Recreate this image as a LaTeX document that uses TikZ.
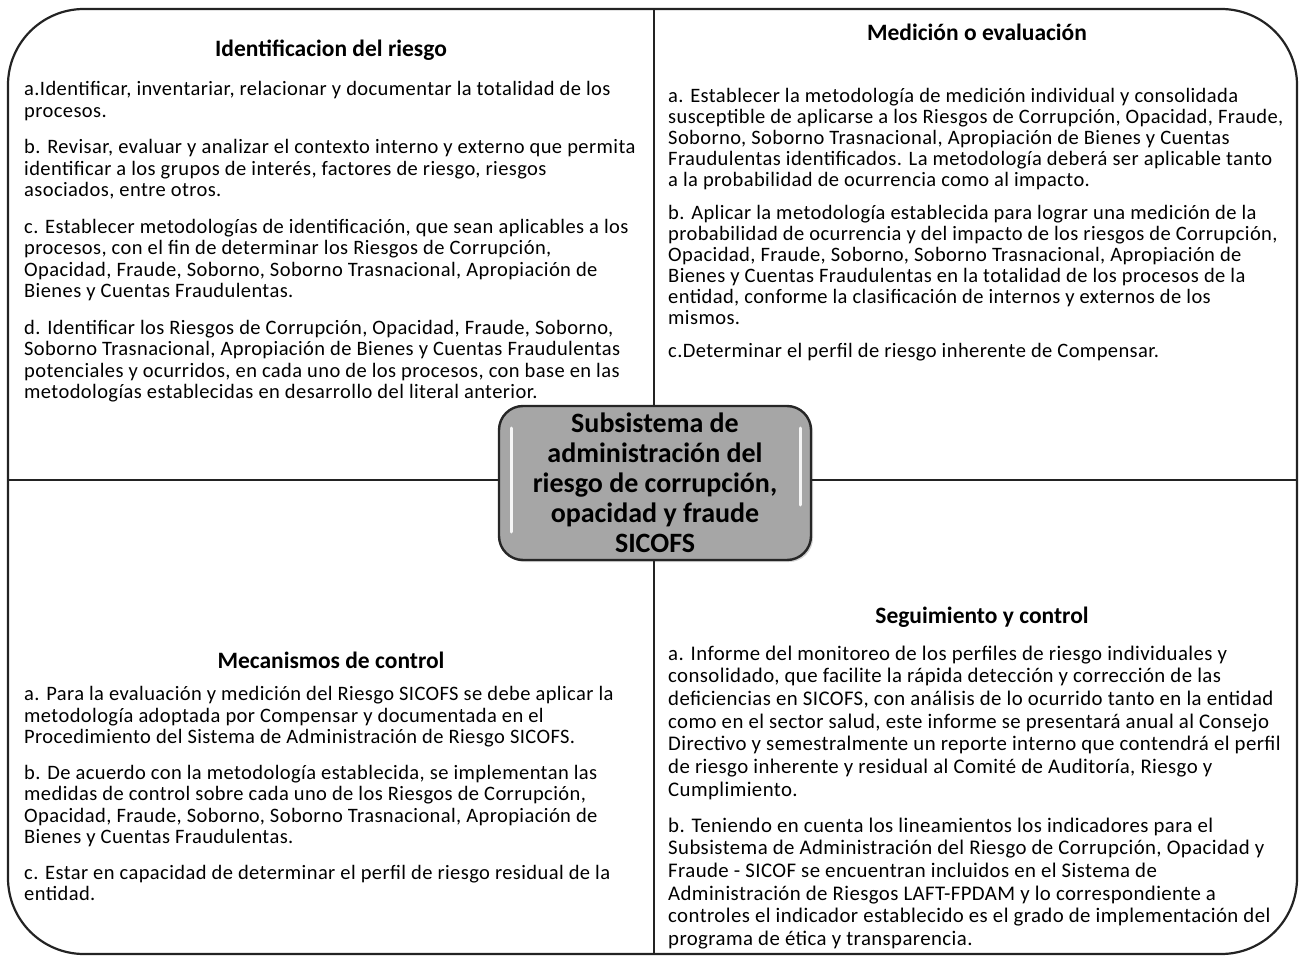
\documentclass[tikz,border=0pt]{standalone}
\usepackage{fontspec}
\setmainfont{Carlito}
\newfontfamily\bodyfont[LetterSpace=2]{Carlito}
\usetikzlibrary{shadows}
\definecolor{boxgray}{RGB}{166,166,166}
\definecolor{linegray}{RGB}{35,35,35}

\begin{document}
\begin{tikzpicture}[x=1pt,y=-1pt,
  frame/.style={draw=linegray,line width=2.2pt},
  head/.style={font=\fontsize{23.5}{26}\selectfont\bfseries,anchor=center,inner sep=0pt},
  body/.style={font=\bodyfont\fontsize{20.5}{21.5}\selectfont,align=left,anchor=north west,inner sep=0pt},
  corebox/.style={draw=black!85,fill=boxgray,line width=2.4pt,rounded corners=24pt,
    minimum width=312pt,minimum height=154pt,align=center,inner sep=0pt,
    font=\fontsize{28}{30}\selectfont\bfseries,
    drop shadow={opacity=.35,shadow xshift=2pt,shadow yshift=-2pt}},
  hilite/.style={draw=white,line width=3pt,line cap=round,opacity=.9}]

  \useasboundingbox (0,0) rectangle (1303,957);

  % outer frame and separators
  \draw[frame,rounded corners=76pt] (8,9) rectangle (1297,954);
  \coordinate (top) at (654,9);
  \coordinate (bot) at (654,954);
  \coordinate (lft) at (8,480);
  \coordinate (rgt) at (1297,480);

  \node[corebox] (core) at (655,483) {Subsistema de\\administración del\\riesgo de corrupción,\\opacidad y fraude\\SICOFS};

  \draw[frame] (top) -- (top |- core.north)
   (bot) -- (bot |- core.south)
   (lft) -- (lft -| core.west)
   (rgt) -- (rgt -| core.east);

  \draw[hilite] (511,428) -- (511,532)
   (800,428) -- (800,505);

  % quadrant titles
  \node[head] (idhead) at (331,50) {Identificacion del riesgo};
  \node[head] (medhead) at (977,32) {Medición o evaluación};
  \node[head] (mechead) at (331,660) {Mecanismos de control};
  \node[head] (seghead) at (982,617) {Seguimiento y control};

  % quadrant texts
  \node[body] (idtxt) at (24,81.5) {a.Identificar, inventariar, relacionar y documentar la totalidad de los\\
procesos.\\[15pt]
b. Revisar, evaluar y analizar el contexto interno y externo que permita\\
identificar a los grupos de interés, factores de riesgo, riesgos\\
asociados, entre otros.\\[15pt]
c. Establecer metodologías de identificación, que sean aplicables a los\\
procesos, con el fin de determinar los Riesgos de Corrupción,\\
Opacidad, Fraude, Soborno, Soborno Trasnacional, Apropiación de\\
Bienes y Cuentas Fraudulentas.\\[15pt]
d. Identificar los Riesgos de Corrupción, Opacidad, Fraude, Soborno,\\
Soborno Trasnacional, Apropiación de Bienes y Cuentas Fraudulentas\\
potenciales y ocurridos, en cada uno de los procesos, con base en las\\
metodologías establecidas en desarrollo del literal anterior.};

  \node[body,font=\bodyfont\fontsize{20.5}{21}\selectfont] (medtxt) at (668,88.5) {a. Establecer la metodología de medición individual y consolidada\\
susceptible de aplicarse a los Riesgos de Corrupción, Opacidad, Fraude,\\
Soborno, Soborno Trasnacional, Apropiación de Bienes y Cuentas\\
Fraudulentas identificados. La metodología deberá ser aplicable tanto\\
a la probabilidad de ocurrencia como al impacto.\\[12pt]
b. Aplicar la metodología establecida para lograr una medición de la\\
probabilidad de ocurrencia y del impacto de los riesgos de Corrupción,\\
Opacidad, Fraude, Soborno, Soborno Trasnacional, Apropiación de\\
Bienes y Cuentas Fraudulentas en la totalidad de los procesos de la\\
entidad, conforme la clasificación de internos y externos de los\\
mismos.\\[12pt]
c.Determinar el perfil de riesgo inherente de Compensar.};

  \node[body] (mectxt) at (24,686.5) {a. Para la evaluación y medición del Riesgo SICOFS se debe aplicar la\\
metodología adoptada por Compensar y documentada en el\\
Procedimiento del Sistema de Administración de Riesgo SICOFS.\\[14pt]
b. De acuerdo con la metodología establecida, se implementan las\\
medidas de control sobre cada uno de los Riesgos de Corrupción,\\
Opacidad, Fraude, Soborno, Soborno Trasnacional, Apropiación de\\
Bienes y Cuentas Fraudulentas.\\[14pt]
c. Estar en capacidad de determinar el perfil de riesgo residual de la\\
entidad.};

  \node[body,font=\bodyfont\fontsize{20.8}{22.7}\selectfont] (segtxt) at (668,645.5) {a. Informe del monitoreo de los perfiles de riesgo individuales y\\
consolidado, que facilite la rápida detección y corrección de las\\
deficiencias en SICOFS, con análisis de lo ocurrido tanto en la entidad\\
como en el sector salud, este informe se presentará anual al Consejo\\
Directivo y semestralmente un reporte interno que contendrá el perfil\\
de riesgo inherente y residual al Comité de Auditoría, Riesgo y\\
Cumplimiento.\\[13pt]
b. Teniendo en cuenta los lineamientos los indicadores para el\\
Subsistema de Administración del Riesgo de Corrupción, Opacidad y\\
Fraude - SICOF se encuentran incluidos en el Sistema de\\
Administración de Riesgos LAFT-FPDAM y lo correspondiente a\\
controles el indicador establecido es el grado de implementación del\\
programa de ética y transparencia.};

\end{tikzpicture}
\end{document}
